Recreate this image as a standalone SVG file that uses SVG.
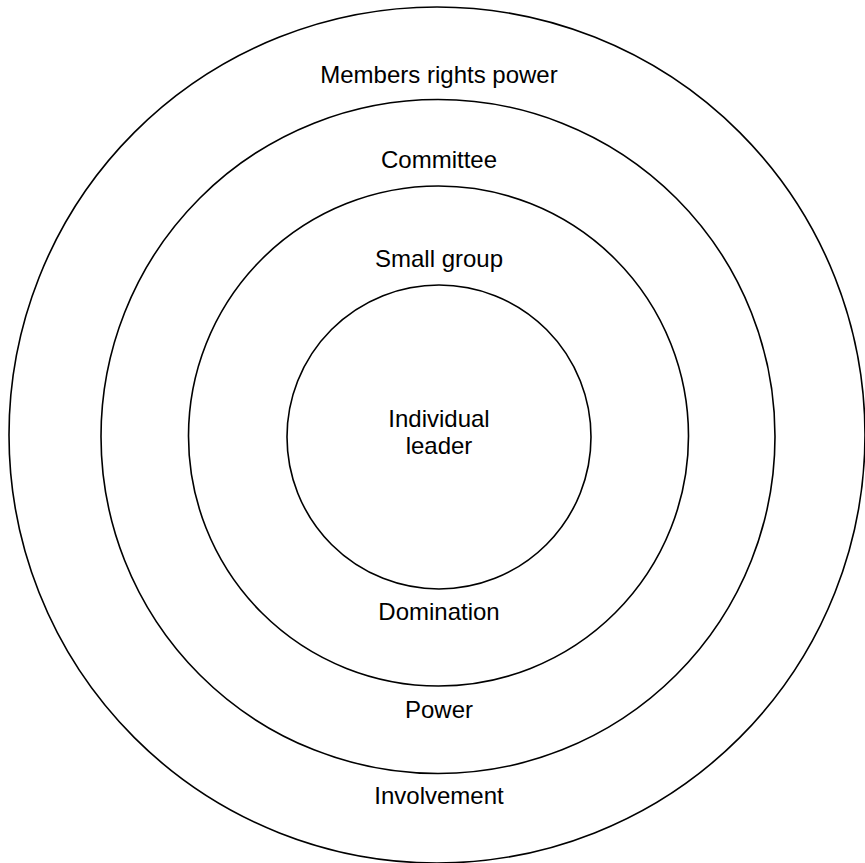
<svg xmlns="http://www.w3.org/2000/svg" width="865" height="863" viewBox="0 0 865 863">
<style>
.ring{fill:none;stroke:#000;stroke-width:1.6}
text{font-family:"Liberation Sans",Arial,sans-serif;font-size:24px;fill:#000;text-anchor:middle}
</style>
<rect width="865" height="863" fill="#fff"/>
<g id="outer"><circle class="ring" cx="437" cy="435" r="428"/><text x="439" y="83">Members rights power</text><text x="439" y="804">Involvement</text></g>
<g id="committee"><circle class="ring" cx="438" cy="436.5" r="337"/><text x="439" y="168">Committee</text><text x="439" y="718">Power</text></g>
<g id="smallgroup"><circle class="ring" cx="438.5" cy="436" r="250"/><text x="439" y="267">Small group</text><text x="439" y="620">Domination</text></g>
<g id="leader"><circle class="ring" cx="439" cy="437" r="152"/><text x="439" y="427">Individual</text><text x="439" y="454">leader</text></g>
<g id="connectors"/>
</svg>
